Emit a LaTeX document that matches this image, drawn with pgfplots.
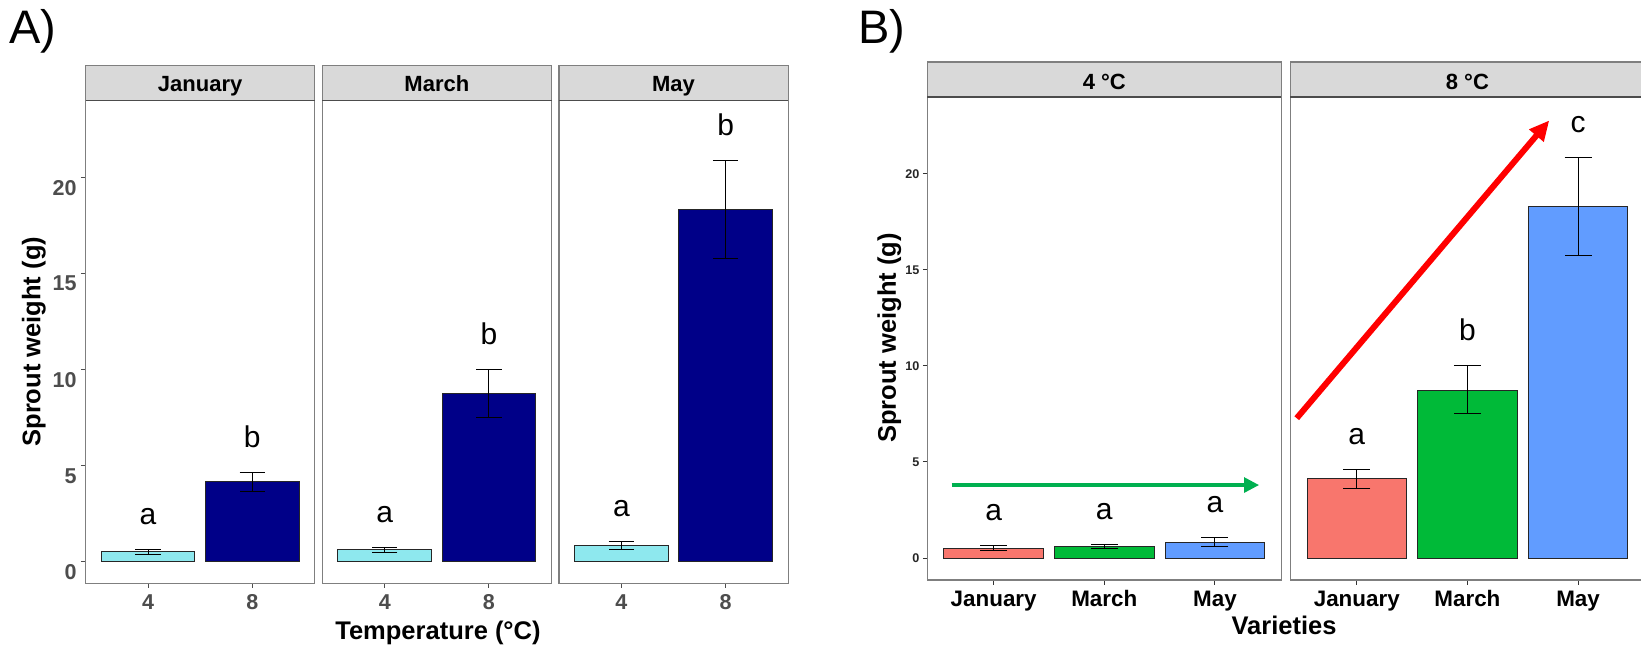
\documentclass[border=0pt]{standalone}
\usepackage{fontspec}
\setmainfont{Liberation Sans}
\usepackage{pgfplots}
\pgfplotsset{compat=1.18}
\usetikzlibrary{arrows.meta}
\definecolor{lcyan}{HTML}{8EE8EE}
\definecolor{dnavy}{HTML}{000088}
\definecolor{gR}{HTML}{F8766D}
\definecolor{gG}{HTML}{00BA38}
\definecolor{gB}{HTML}{619CFF}
\definecolor{stripc}{HTML}{D9D9D9}
\definecolor{framec}{HTML}{7F7F7F}
\definecolor{tickgray}{HTML}{4D4D4D}
\definecolor{arrgreen}{HTML}{00B050}
\pgfplotsset{
  facet/.style={
    scale only axis, height=483pt, ymin=-1.143, ymax=24.0,
    clip=false, axis line style={draw=framec, line width=1.2pt},
    tick align=outside, major tick length=4.5pt, tick pos=left,
    every tick/.style={draw=tickgray, line width=1pt},
    /pgf/number format/assume math mode=true,
    anchor=south west,
  },
  faceta/.style={facet, width=229.3pt, xmin=0.4, xmax=2.6, xtick={1,2}, xticklabels={4,8},
    xticklabel style={font=\fontsize{21.5}{21.5}\selectfont\bfseries, text=tickgray, anchor=base, inner sep=0pt, yshift=-21.6pt},
    yticklabel style={font=\fontsize{21.5}{21.5}\selectfont\bfseries, text=tickgray, anchor=east, inner sep=0pt, xshift=-4.3pt, yshift=-10.6pt},
  },
  facetb/.style={facet, width=354pt, xmin=0.4, xmax=3.6, xtick={1,2,3}, xticklabels={January,March,May},
    every tick/.style={draw=black!80, line width=1pt},
    xticklabel style={font=\fontsize{22.4}{22.4}\selectfont\bfseries, text=black, anchor=base, inner sep=0pt, yshift=-21.5pt},
    yticklabel style={font=\fontsize{12.6}{12.6}\selectfont\bfseries, text=black!85, anchor=east, inner sep=0pt, xshift=-3.2pt},
  },
  bara/.style={ybar, bar width=0.9, bar shift=0pt, draw=black!85, line width=0.9pt,
    error bars/y dir=both, error bars/y explicit,
    error bars/error bar style={line width=1pt, black},
    error bars/error mark options={rotate=90, mark size=12.7pt, line width=1pt, black}},
  barb/.style={ybar, bar width=0.9, bar shift=0pt, draw=black!85, line width=0.9pt,
    error bars/y dir=both, error bars/y explicit,
    error bars/error bar style={line width=1pt, black},
    error bars/error mark options={rotate=90, mark size=13.5pt, line width=1pt, black}},
}
\newcommand{\strip}[2]{%
  \draw[fill=stripc, draw=framec, line width=1.2pt] (rel axis cs:0,1) rectangle ([yshift=35pt]rel axis cs:1,1);
  \draw[draw=black!70, line width=1.2pt] (rel axis cs:0,1) -- (rel axis cs:1,1);
  \node[anchor=base, font=\fontsize{22}{22}\selectfont\bfseries] at ([yshift=#2]rel axis cs:0.5,1) {#1};}
\newcommand{\lett}[3]{\node[anchor=base, font=\fontsize{30}{30}\selectfont] at (axis cs:#1,#2) {#3};}
\begin{document}
\begin{tikzpicture}
\useasboundingbox (0,0) rectangle (1641pt,646pt);
\clip (0,0) rectangle (1641pt,646pt);
\fill[white] (0,0) rectangle (1641pt,646pt);
% ---------- Panel A ----------
\begin{axis}[faceta, at={(85.5pt,62.8pt)}, ytick={0,5,10,15,20}]
\addplot[bara, fill=lcyan] coordinates {(1,0.50) +- (0,0.13)};
\addplot[bara, fill=dnavy] coordinates {(2,4.13) +- (0,0.50)};
\lett{1}{1.93}{a}
\lett{2}{5.93}{b}
\strip{January}{9pt}
\end{axis}
\begin{axis}[faceta, at={(322.2pt,62.8pt)}, ytick=\empty]
\addplot[bara, fill=lcyan] coordinates {(1,0.60) +- (0,0.12)};
\addplot[bara, fill=dnavy] coordinates {(2,8.75) +- (0,1.25)};
\lett{1}{2.02}{a}
\lett{2}{11.30}{b}
\strip{March}{9pt}
\end{axis}
\begin{axis}[faceta, at={(558.9pt,62.8pt)}, ytick=\empty]
\addplot[bara, fill=lcyan] coordinates {(1,0.83) +- (0,0.22)};
\addplot[bara, fill=dnavy] coordinates {(2,18.32) +- (0,2.55)};
\lett{1}{2.35}{a}
\lett{2}{22.17}{b}
\strip{May}{9pt}
\end{axis}
% ---------- Panel B ----------
\begin{axis}[facetb, at={(927.3pt,66pt)}, ytick={0,5,10,15,20}]
\addplot[barb, fill=gR] coordinates {(1,0.50) +- (0,0.13)};
\addplot[barb, fill=gG] coordinates {(2,0.60) +- (0,0.12)};
\addplot[barb, fill=gB] coordinates {(3,0.83) +- (0,0.22)};
\lett{1}{1.93}{a}
\lett{2}{2.02}{a}
\lett{3}{2.35}{a}
\draw[arrgreen, line width=4.5pt, -{Triangle[length=15pt, width=14.5pt]}] (axis cs:0.62,3.80) -- (axis cs:3.40,3.80);
\strip{4 °C}{7.5pt}
\end{axis}
\begin{axis}[facetb, at={(1290.4pt,66pt)}, ytick=\empty]
\addplot[barb, fill=gR] coordinates {(1,4.13) +- (0,0.50)};
\addplot[barb, fill=gG] coordinates {(2,8.75) +- (0,1.25)};
\addplot[barb, fill=gB] coordinates {(3,18.32) +- (0,2.55)};
\lett{1}{5.93}{a}
\lett{2}{11.30}{b}
\lett{3}{22.17}{c}
\draw[red, line width=6pt, -{Triangle[length=20pt, width=18pt]}] (axis cs:0.457,7.28) -- (axis cs:2.74,22.78);
\strip{8 °C}{7.5pt}
\end{axis}
% ---------- titles ----------
\node[anchor=base west, font=\fontsize{47}{47}\selectfont, inner sep=0pt] at (9pt,602pt) {A)};
\node[anchor=base west, font=\fontsize{47}{47}\selectfont, inner sep=0pt] at (858pt,602pt) {B)};
\node[rotate=90, font=\fontsize{25.5}{25.5}\selectfont\bfseries] at (33.9pt,304.3pt) {Sprout weight (g)};
\node[rotate=90, font=\fontsize{25.5}{25.5}\selectfont\bfseries] at (889.3pt,308.1pt) {Sprout weight (g)};
\node[anchor=base, font=\fontsize{25.5}{25.5}\selectfont\bfseries, inner sep=0pt] at (438pt,6.5pt) {Temperature (°C)};
\node[anchor=base, font=\fontsize{25.5}{25.5}\selectfont\bfseries, inner sep=0pt] at (1284pt,11.2pt) {Varieties};
\end{tikzpicture}
\end{document}
